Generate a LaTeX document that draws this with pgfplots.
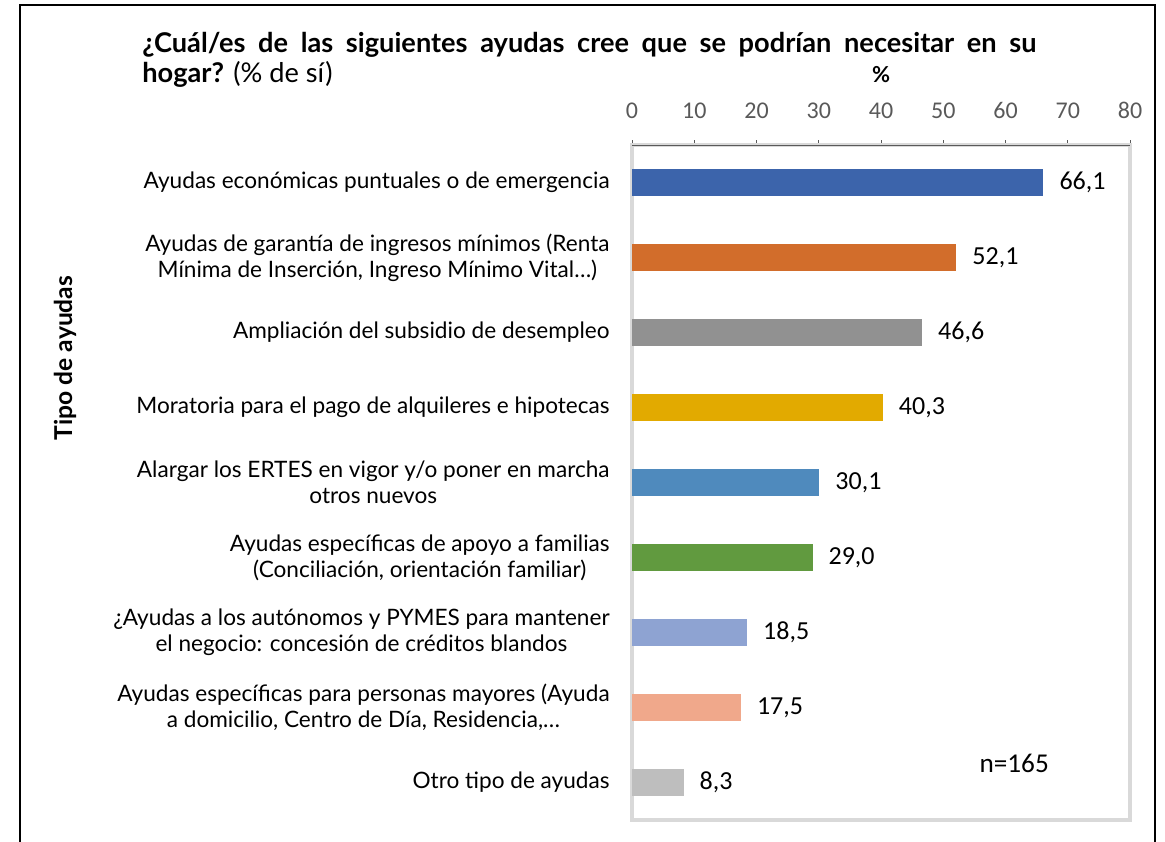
\documentclass[border=0pt]{standalone}
\usepackage{fontspec}
\setmainfont{Lato}
\newfontfamily\carlito{Carlito}
\usepackage{pgfplots}
\pgfplotsset{compat=1.18}
\definecolor{c1}{HTML}{3C64AB}
\definecolor{c2}{HTML}{D26D2B}
\definecolor{c3}{HTML}{919191}
\definecolor{c4}{HTML}{E2AA00}
\definecolor{c5}{HTML}{4F8ABD}
\definecolor{c6}{HTML}{619A3F}
\definecolor{c7}{HTML}{8EA3D2}
\definecolor{c8}{HTML}{F0A88B}
\definecolor{c9}{HTML}{BEBEBE}
\definecolor{framegray}{HTML}{D9D9D9}
\definecolor{tickgray}{HTML}{595959}
\begin{document}
\begin{tikzpicture}
\path[use as bounding box] (0,0) rectangle (582.5pt,-420.5pt);
\draw[line width=1pt] (10pt,-430pt) -- (10pt,-2.5pt) -- (577.5pt,-2.5pt) -- (577.5pt,-430pt);
\node[anchor=north west, text width=447pt, align=justify, inner sep=0pt, font=\fontsize{13.6}{14.8}\selectfont] at (71pt,-16pt)
  {\hyphenpenalty=10000\exhyphenpenalty=10000\textbf{¿Cuál/es de las siguientes ayudas cree que se podrían necesitar en su\linebreak hogar?} (\% de sí)};
\node[font=\bfseries\fontsize{11}{13}\selectfont] at (440.5pt,-37.5pt) {\%};
\node[rotate=90, font=\bfseries\fontsize{12.3}{14}\selectfont] at (32.5pt,-179pt) {Tipo de ayudas};
\begin{axis}[
  at={(316pt,-72.5pt)}, anchor=north west,
  scale only axis, width=249pt, height=337.5pt,
  xmin=0, xmax=80, ymin=-0.5, ymax=8.5, y dir=reverse,
  xbar, bar width=0.35, bar shift=0pt,
  xtick={0,10,...,80},
  xtick pos=right, xticklabel pos=right,
  tick align=outside, major tick length=2.5pt,
  ytick={0,...,8},
  y tick style={draw=none},
  yticklabels={
    Ayudas económicas puntuales o de emergencia,
    {Ayudas de garantía de ingresos mínimos (Renta\\Mínima de Inserción, Ingreso Mínimo Vital…)},
    Ampliación del subsidio de desempleo,
    Moratoria para el pago de alquileres e hipotecas,
    {Alargar los ERTES en vigor y/o poner en marcha\\otros nuevos},
    {Ayudas específicas de apoyo a familias\\(Conciliación, orientación familiar)},
    {¿Ayudas a los autónomos y PYMES para mantener\\el negocio: concesión de créditos blandos},
    {Ayudas específicas para personas mayores (Ayuda\\a domicilio, Centro de Día, Residencia,…},
    Otro tipo de ayudas},
  yticklabel style={align=center, inner sep=0pt, xshift=-8.5pt, font=\fontsize{11.3}{13}\selectfont},
  /pgf/number format/assume math mode=true,
  xticklabel style={font=\carlito\fontsize{12}{14}\selectfont, text=tickgray, yshift=7pt},
  axis line style={draw=framegray, line width=2pt},
  x tick style={draw=tickgray, line width=0.5pt},
  nodes near coords={\pgfmathprintnumber[assume math mode=true,use comma,fixed,fixed zerofill,precision=1]{\pgfplotspointmeta}},
  every node near coord/.append style={font=\carlito\fontsize{13}{15}\selectfont, anchor=west, xshift=4.5pt, text=black},
  point meta=x,
]
\addplot[fill=c1, draw=none] coordinates {(66.1,0)};
\addplot[fill=c2, draw=none] coordinates {(52.1,1)};
\addplot[fill=c3, draw=none] coordinates {(46.6,2)};
\addplot[fill=c4, draw=none] coordinates {(40.3,3)};
\addplot[fill=c5, draw=none] coordinates {(30.1,4)};
\addplot[fill=c6, draw=none] coordinates {(29.0,5)};
\addplot[fill=c7, draw=none] coordinates {(18.5,6)};
\addplot[fill=c8, draw=none] coordinates {(17.5,7)};
\addplot[fill=c9, draw=none] coordinates {(8.3,8)};
\draw[tickgray, line width=0.5pt] (axis cs:0,-0.5) -- (axis cs:80,-0.5);
\node[font=\carlito\fontsize{13.6}{15}\selectfont] at (axis cs:61.4,7.75) {n=165};
\end{axis}
\end{tikzpicture}
\end{document}
